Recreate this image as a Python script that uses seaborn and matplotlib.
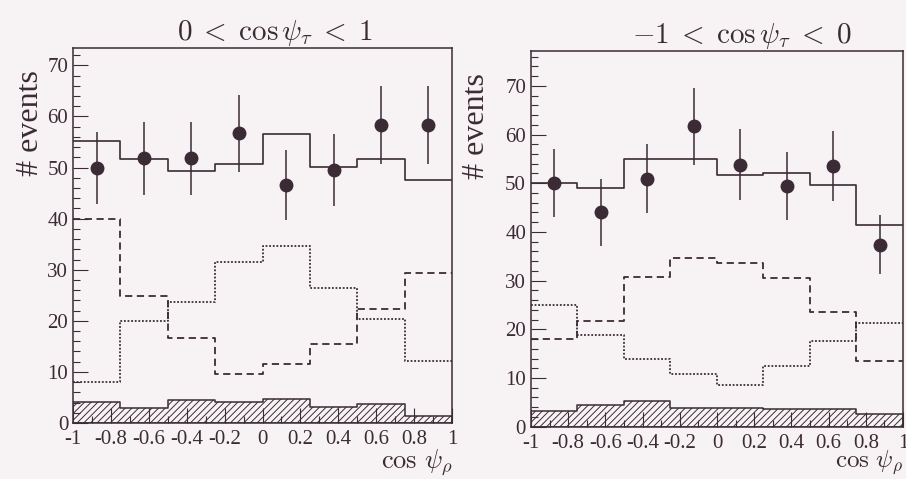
import numpy as np
import pandas as pd
import matplotlib
matplotlib.use("Agg")
import matplotlib.pyplot as plt
import seaborn as sns
from matplotlib.ticker import MultipleLocator

# bin edges in cos(psi_rho), 8 bins
edges = [-1.0, -0.75, -0.5, -0.25, 0.0, 0.25, 0.5, 0.75, 1.0]
centers = [-0.875, -0.625, -0.375, -0.125, 0.125, 0.375, 0.625, 0.875]

# left panel: 0 < cos psi_tau < 1
left_total = [55.2, 51.7, 49.4, 50.7, 56.6, 50.2, 51.6, 47.5]
left_dashed = [40.0, 24.9, 16.7, 9.6, 11.6, 15.5, 22.3, 29.3]
left_dotted = [8.0, 20.0, 23.7, 31.6, 34.6, 26.4, 20.4, 12.2]
left_bkg = [4.1, 3.0, 4.6, 4.2, 4.7, 3.1, 3.7, 1.4]
left_data = [49.9, 51.8, 51.8, 56.7, 46.6, 49.5, 58.3, 58.3]
left_err = [7.0, 7.2, 7.2, 7.5, 6.8, 7.0, 7.6, 7.6]

# right panel: -1 < cos psi_tau < 0
right_total = [50.1, 49.0, 54.9, 55.0, 51.6, 52.1, 49.6, 41.4]
right_dashed = [18.1, 21.8, 30.8, 34.7, 33.6, 30.5, 23.5, 13.4]
right_dotted = [24.9, 18.9, 13.9, 10.8, 8.6, 12.5, 17.5, 21.3]
right_bkg = [3.3, 4.4, 5.2, 3.9, 3.8, 3.6, 3.7, 2.7]
right_data = [50.0, 44.0, 50.9, 61.7, 53.8, 49.5, 53.5, 37.4]
right_err = [7.0, 6.8, 7.1, 7.9, 7.3, 7.0, 7.2, 6.0]

xtick_vals = [-1, -0.8, -0.6, -0.4, -0.2, 0, 0.2, 0.4, 0.6, 0.8, 1]
xtick_labels = ["-1", "-0.8", "-0.6", "-0.4", "-0.2", "0", "0.2", "0.4", "0.6", "0.8", "1"]
ytick_vals = [0, 10, 20, 30, 40, 50, 60, 70]

ink = "#3b2b35"
paper = "#f7f3f4"

sns.set_style("ticks")
plt.rcParams["font.family"] = ["Liberation Serif", "DejaVu Serif"]
plt.rcParams["mathtext.fontset"] = "cm"
plt.rcParams["hatch.linewidth"] = 0.7

fig = plt.figure(figsize=(9.06, 4.79), dpi=100, facecolor=paper)
ax1 = fig.add_axes([0.0806, 0.1169, 0.4183, 0.7829])
ax2 = fig.add_axes([0.586, 0.1092, 0.4107, 0.7848])


def draw_panel(ax, total, dashed, dotted, bkg, data, err, ymax, title, title_x,
               ylab_x, xlab_size, xlab_pad):
    df = pd.DataFrame({"x": centers, "total": total, "dashed": dashed,
                       "dotted": dotted, "bkg": bkg})
    sns.histplot(data=df, x="x", weights="bkg", bins=edges, element="step",
                 fill=True, color=ink, facecolor="none", edgecolor=ink, hatch="/////",
                 linewidth=1.1, alpha=1, ax=ax)
    sns.histplot(data=df, x="x", weights="total", bins=edges, element="step",
                 fill=False, color=ink, linewidth=1.2, ax=ax)
    sns.histplot(data=df, x="x", weights="dashed", bins=edges, element="step",
                 fill=False, color=ink, linewidth=1.3, linestyle=(0, (4, 2.5)), ax=ax)
    sns.histplot(data=df, x="x", weights="dotted", bins=edges, element="step",
                 fill=False, color=ink, linewidth=1.3, linestyle=(0, (1, 1)), ax=ax)
    ax.errorbar(centers, data, yerr=err, fmt="o", color=ink, ms=9,
                elinewidth=1.1, capsize=0, zorder=5)

    ax.set_facecolor(paper)
    ax.set_xlim(-1, 1)
    ax.set_ylim(0, ymax)
    ax.set_xticks(xtick_vals)
    ax.set_xticklabels(xtick_labels)
    ax.set_yticks(ytick_vals)
    ax.xaxis.set_minor_locator(MultipleLocator(0.1))
    ax.yaxis.set_minor_locator(MultipleLocator(2))
    ax.tick_params(which="both", direction="in", colors=ink, labelsize=15,
                   labelcolor=ink, width=0.8)
    ax.tick_params(which="major", length=11)
    ax.tick_params(which="minor", length=5)
    ax.tick_params(axis="x", pad=5)
    for s in ax.spines.values():
        s.set_visible(True)
        s.set_color(ink)
        s.set_linewidth(1.1)

    ax.set_title(title, fontsize=21, color=ink, x=title_x, pad=5)
    ax.set_ylabel("# events", fontsize=23, color=ink)
    ax.yaxis.set_label_coords(ylab_x, 0.80)
    ax.set_xlabel(r"$\cos\,\psi_\rho$", fontsize=xlab_size, color=ink, loc="right",
                  labelpad=xlab_pad)


draw_panel(ax1, left_total, left_dashed, left_dotted, left_bkg, left_data, left_err,
           73.4, r"$0\;<\;\cos\psi_\tau\;<\;1$", 0.533, -0.074, 19, -1)
draw_panel(ax2, right_total, right_dashed, right_dotted, right_bkg, right_data, right_err,
           77.2, r"$-1\;<\;\cos\psi_\tau\;<\;0$", 0.567, -0.107, 18, -2.5)

fig.savefig("out.png", dpi=100, facecolor=paper)
